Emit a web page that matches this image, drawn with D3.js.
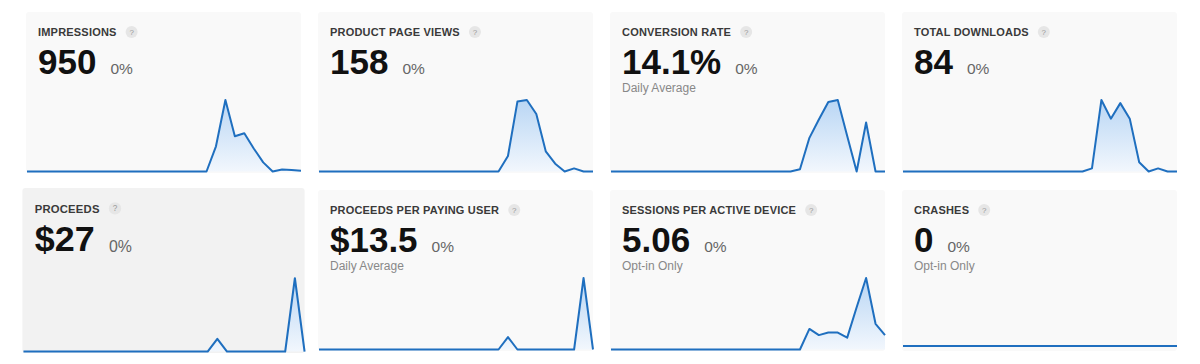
<!DOCTYPE html>
<html>
<head>
<meta charset="utf-8">
<script src="https://cdn.jsdelivr.net/npm/d3@7"></script>
<style>
  body { margin: 0; background: #fff; font-family: "Liberation Sans", Arial, sans-serif; }
</style>
</head>
<body>
<svg id="svg" width="1200" height="364"></svg>
<script>
// metric cards, left to right, top to bottom
var titles = ["IMPRESSIONS", "PRODUCT PAGE VIEWS", "CONVERSION RATE", "TOTAL DOWNLOADS",
              "PROCEEDS", "PROCEEDS PER PAYING USER", "SESSIONS PER ACTIVE DEVICE", "CRASHES"];
var totals = ["950", "158", "14.1%", "84", "$27", "$13.5", "5.06", "0"];
var changes = ["0%", "0%", "0%", "0%", "0%", "0%", "0%", "0%"];
var subtitles = ["", "", "Daily Average", "", "", "Daily Average", "Opt-in Only", "Opt-in Only"];

// daily values, 30 days
var impressions = [0,0,0,0,0,0,0,0,0,0,0,0,0,0,0,0,0,0,0,0, 116,329,162,176,106,42,0,9,7,3];
var pageViews   = [0,0,0,0,0,0,0,0,0,0,0,0,0,0,0,0,0,0,0,0, 10,45,46,37,13,5,0,2,0,0];
var conversion  = [0,0,0,0,0,0,0,0,0,0,0,0,0,0,0,0,0,0,0,0, 0.8,12.1,18.7,25.0,25.7,12.8,0,17.6,0,0];
var downloads   = [0,0,0,0,0,0,0,0,0,0,0,0,0,0,0,0,0,0,0,0, 1,23,17,22,17,3,0,1,0,0];
var proceeds    = [0,0,0,0,0,0,0,0,0,0,0,0,0,0,0,0,0,0,0,0, 4,0,0,0,0,0,0,0,23,0];
var perUser     = [0,0,0,0,0,0,0,0,0,0,0,0,0,0,0,0,0,0,0,0, 4,0,0,0,0,0,0,0,23,0];
var sessions    = [0,0,0,0,0,0,0,0,0,0,0,0,0,0,0,0,0,0,0,0, 0,4.0,2.8,3.3,3.3,2.3,8.2,13.9,5.0,2.8];
var crashes     = [0,0,0,0,0,0,0,0,0,0,0,0,0,0,0,0,0,0,0,0, 0,0,0,0,0,0,0,0,0,0];

var series = [impressions, pageViews, conversion, downloads, proceeds, perUser, sessions, crashes];
var hovered = 4;

var cardW = 275, cardH = 161;
var colX = d3.scalePoint().domain([0, 1, 2, 3]).range([26, 26 + 3 * 292]);
var rowY = d3.scalePoint().domain([0, 1]).range([12, 190]);

var svg = d3.select("#svg");

var defs = svg.append("defs");
var grad = defs.append("linearGradient")
    .attr("id", "fade")
    .attr("x1", 0).attr("y1", 0).attr("x2", 0).attr("y2", 1);
grad.append("stop").attr("offset", "0%").attr("stop-color", "#b9d6f4");
grad.append("stop").attr("offset", "100%").attr("stop-color", "#f2f7fd");

titles.forEach(function (t, i) {
    var px = colX(i % 4), py = rowY(Math.floor(i / 4));
    var card = svg.append("g");
    if (i === hovered) {
        var cx = px + cardW / 2, cy = py + cardH / 2;
        card.attr("transform", "translate(" + cx + "," + cy + ") scale(1.026) translate(" + (-cx) + "," + (-cy) + ")");
    }

    card.append("rect")
        .attr("x", px).attr("y", py)
        .attr("width", cardW).attr("height", cardH)
        .attr("rx", 3)
        .attr("fill", i === hovered ? "#f2f2f2" : "#f9f9f9");

    var title = card.append("text")
        .attr("x", px + 12).attr("y", py + 24)
        .attr("font-size", 11).attr("font-weight", "bold")
        .attr("letter-spacing", 0.2)
        .attr("fill", "#3a3a3a")
        .text(t);
    var tw = title.node().getComputedTextLength();

    card.append("circle")
        .attr("cx", px + 12 + tw + 15).attr("cy", py + 20)
        .attr("r", 6)
        .attr("fill", "#e6e6e6");
    card.append("text")
        .attr("x", px + 12 + tw + 15).attr("y", py + 23)
        .attr("text-anchor", "middle")
        .attr("font-size", 8)
        .attr("fill", "#999")
        .text("?");

    var big = card.append("text")
        .attr("x", px + 12).attr("y", py + 61.5)
        .attr("font-size", 35).attr("font-weight", "bold")
        .attr("fill", "#111")
        .text(totals[i]);
    var bw = big.node().getComputedTextLength();

    card.append("text")
        .attr("x", px + 12 + bw + 14).attr("y", py + 62)
        .attr("font-size", 15.5)
        .attr("fill", "#666")
        .text(changes[i]);

    if (subtitles[i]) {
        card.append("text")
            .attr("x", px + 12).attr("y", py + 80)
            .attr("font-size", 12)
            .attr("fill", "#888")
            .text(subtitles[i]);
    }

    // sparkline
    var data = series[i];
    var maxV = d3.max(data);
    var x = d3.scaleLinear().domain([0, data.length - 1]).range([px + 1, px + cardW]);
    var bottom = py + 159.5;
    var y = d3.scaleLinear()
        .domain([0, maxV || 1])
        .range(maxV ? [bottom, py + 88] : [bottom - 3.5, py + 88]);

    var area = d3.area()
        .x(function (d, j) { return x(j); })
        .y0(y(0))
        .y1(function (d) { return y(d); });
    var line = d3.line()
        .x(function (d, j) { return x(j); })
        .y(function (d) { return y(d); });

    if (maxV) {
        card.append("path")
            .datum(data)
            .attr("d", area)
            .attr("fill", "url(#fade)");
    }
    card.append("path")
        .datum(data)
        .attr("d", line)
        .attr("fill", "none")
        .attr("stroke", "#1f6fbf")
        .attr("stroke-width", 2)
        .attr("stroke-linejoin", "round");
});
</script>
</body>
</html>
